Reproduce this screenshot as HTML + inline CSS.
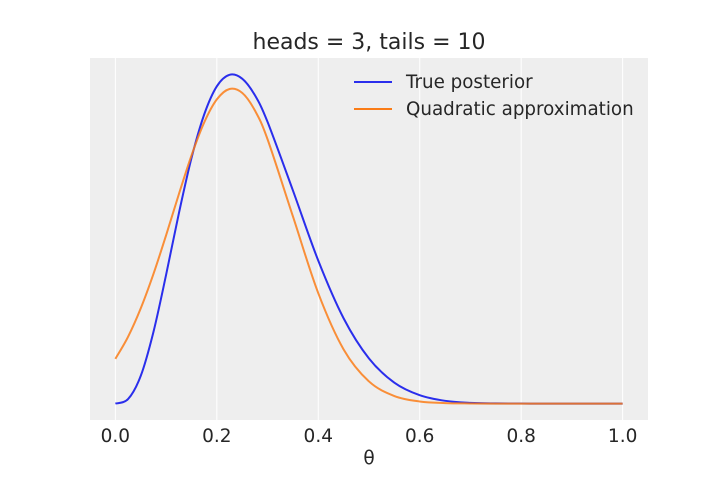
<!DOCTYPE html>
<html><head><meta charset="utf-8"><style>
html,body{margin:0;padding:0;background:#fff}
svg{display:block;font-family:"DejaVu Sans","Liberation Sans",sans-serif}
</style></head><body>
<svg id="chart" width="720" height="480" viewBox="0 0 720 480">
<rect x="90" y="58" width="558" height="362" fill="#eeeeee"/>
<g id="grid"></g>
<g id="series"></g>
<g id="ticks"></g>
<text x="369" y="49" text-anchor="middle" font-size="22" fill="#262626">heads = 3, tails = 10</text>
<text x="369" y="464" text-anchor="middle" font-size="18.5" fill="#262626">θ</text>
<g>
<line x1="354" y1="82" x2="392" y2="82" stroke="#2a2eec" stroke-width="2"/>
<text x="406" y="88" font-size="18.3" fill="#262626">True posterior</text>
<line x1="354" y1="109" x2="392" y2="109" stroke="#fa7c17" stroke-width="2"/>
<text x="406" y="115" font-size="18.3" fill="#262626">Quadratic approximation</text>
</g>
</svg>
<script>
const thetas = [0,0.025,0.05,0.075,0.1,0.125,0.15,0.175,0.2,0.225,0.25,0.275,0.3,0.35,0.4,0.45,0.5,0.55,0.6,0.65,0.7,0.75,0.8,0.85,0.9,0.95,1.0];
const truePosterior = [0,0.0486,0.300,0.775,1.396,2.058,2.661,3.133,3.440,3.565,3.523,3.344,3.054,2.311,1.550,0.924,0.489,0.227,0.091,0.030,0.008,0.002,0.0003,0,0,0,0];
const quadApprox = [0.485,0.724,1.032,1.404,1.825,2.267,2.689,3.047,3.298,3.411,3.369,3.179,2.866,2.030,1.197,0.587,0.240,0.082,0.023,0.0055,0.0011,0,0,0,0,0,0];
const xTicks = [0,0.2,0.4,0.6,0.8,1.0];
const xTickLabels = ["0.0","0.2","0.4","0.6","0.8","1.0"];

const X0=90,X1=648,Y0=420,Y1=58;
const xMin=-0.05,xMax=1.05,yMin=-0.178,yMax=3.747;
const sx=v=>X0+(v-xMin)/(xMax-xMin)*(X1-X0);
const sy=v=>Y0-(v-yMin)/(yMax-yMin)*(Y0-Y1);
const NS="http://www.w3.org/2000/svg";
const grid=document.getElementById('grid'),ticks=document.getElementById('ticks'),series=document.getElementById('series');
xTicks.forEach((t,i)=>{
  const l=document.createElementNS(NS,'line');
  l.setAttribute('x1',sx(t));l.setAttribute('x2',sx(t));l.setAttribute('y1',Y1);l.setAttribute('y2',Y0);
  l.setAttribute('stroke','#fff');l.setAttribute('stroke-width','1');
  
  
  grid.appendChild(l);
  const tx=document.createElementNS(NS,'text');
  tx.setAttribute('x',sx(t));tx.setAttribute('y',442);tx.setAttribute('text-anchor','middle');
  tx.setAttribute('font-size','18.5');tx.setAttribute('fill','#262626');tx.textContent=xTickLabels[i];
  
  
  ticks.appendChild(tx);
});
function pathFor(ys){
  const p=thetas.map((t,i)=>[sx(t),sy(ys[i])]);
  let d='M'+p[0][0]+','+p[0][1];
  for(let i=0;i<p.length-1;i++){
    const a=p[Math.max(0,i-1)],b=p[i],c=p[i+1],e=p[Math.min(p.length-1,i+2)];
    const c1=[b[0]+(c[0]-a[0])/6,b[1]+(c[1]-a[1])/6],c2=[c[0]-(e[0]-b[0])/6,c[1]-(e[1]-b[1])/6];
    d+=' C'+c1+' '+c2+' '+c;
  }
  return d;
}
const p1=document.createElementNS(NS,'path');
p1.setAttribute('d',pathFor(truePosterior));p1.setAttribute('fill','none');p1.setAttribute('stroke','#2a2eec');p1.setAttribute('stroke-width','2');


series.appendChild(p1);
const p2=document.createElementNS(NS,'path');
p2.setAttribute('d',pathFor(quadApprox));p2.setAttribute('fill','none');p2.setAttribute('stroke','#fa7c17');p2.setAttribute('stroke-width','2');p2.setAttribute('stroke-opacity','0.85');


series.appendChild(p2);
</script>
</body></html>
